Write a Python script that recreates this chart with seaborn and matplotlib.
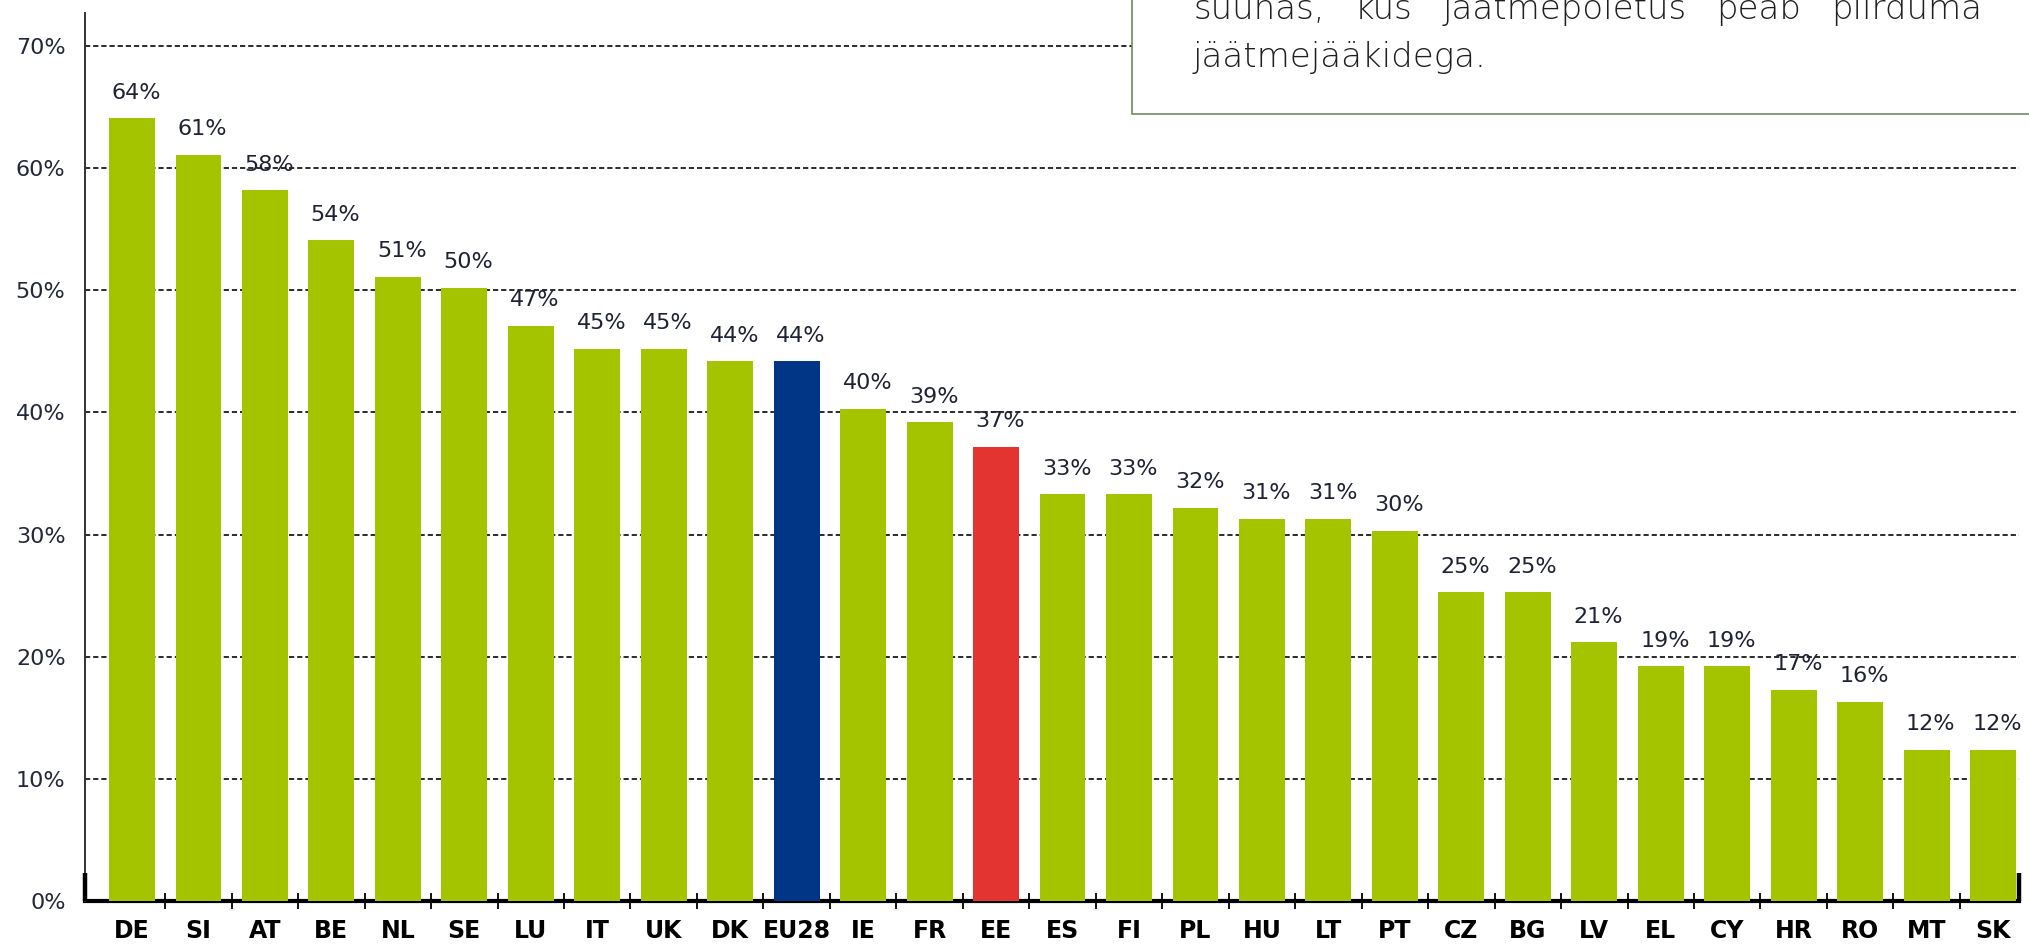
import matplotlib
matplotlib.use("Agg")
import matplotlib.pyplot as plt
import matplotlib.patches as mpatches
from matplotlib.ticker import FixedLocator
import seaborn as sns
import pandas as pd

# data
countries = ["DE", "SI", "AT", "BE", "NL", "SE", "LU", "IT", "UK", "DK", "EU28",
             "IE", "FR", "EE", "ES", "FI", "PL", "HU", "LT", "PT", "CZ", "BG",
             "LV", "EL", "CY", "HR", "RO", "MT", "SK"]
shares = [64.1, 61.1, 58.2, 54.1, 51.1, 50.2, 47.1, 45.2, 45.2, 44.2, 44.2,
          40.3, 39.2, 37.2, 33.3, 33.3, 32.2, 31.3, 31.3, 30.3, 25.3, 25.3,
          21.2, 19.2, 19.2, 17.3, 16.3, 12.4, 12.4]
y_ticks = [0, 10, 20, 30, 40, 50, 60, 70]
box_lines = ["suunas, kus jäätmepõletus peab piirduma", "jäätmejääkidega."]

GREEN = "#a5c400"
BLUE = "#003685"
RED = "#e3342f"
colors = {c: GREEN for c in countries}
colors["EU28"] = BLUE
colors["EE"] = RED

sns.set_theme(style="white")
plt.rcParams["font.family"] = ["DejaVu Sans"]

df = pd.DataFrame({"country": countries, "share": shares})

W, H = 2029, 951
fig = plt.figure(figsize=(W / 100, H / 100), dpi=100)
ax = fig.add_axes([85 / W, (H - 901) / H, (2019 - 85) / W, (901 - 13) / H])

sns.barplot(data=df, x="country", y="share", hue="country", palette=colors,
            legend=False, width=0.69, saturation=1, linewidth=0, zorder=3, ax=ax)

ax.set_xlim(-0.707, 28.39)
ax.set_ylim(0, 72.7)
ax.set_xlabel("")
ax.set_ylabel("")

# dashed horizontal grid
ax.set_yticks(y_ticks)
ax.set_yticklabels([f"{t}%" for t in y_ticks])
ax.set_axisbelow(True)
ax.yaxis.grid(True, color="#111111", lw=1.25, linestyle=(0, (3.0, 1.7)))
ax.xaxis.grid(False)

for s in ["top", "right"]:
    ax.spines[s].set_visible(False)
ax.spines["left"].set_color("#333333")
ax.spines["left"].set_linewidth(1.4)
ax.spines["bottom"].set_color("black")
ax.spines["bottom"].set_linewidth(3)
ax.spines["bottom"].set_zorder(2)

ax.tick_params(axis="y", length=0, pad=14, labelsize=16, labelcolor="#232838")
ax.tick_params(axis="x", which="major", length=0, pad=13, labelsize=17,
               labelcolor="black")
for lab in ax.get_xticklabels():
    lab.set_fontweight("bold")
ax.xaxis.set_minor_locator(FixedLocator([i + 0.5 for i in range(len(countries) - 1)]))
ax.tick_params(axis="x", which="minor", direction="inout", length=12, width=1.3,
               color="black", bottom=True)

# thick end caps on the baseline
for xe in [0, 1]:
    ax.plot([xe, xe], [0, 0.032], transform=ax.transAxes, color="black", lw=3.2,
            clip_on=False, solid_capstyle="butt", zorder=4)

# value labels
for i, v in enumerate(shares):
    ax.annotate(f"{v:.0f}%", xy=(i, v), xytext=(3, 14), textcoords="offset points",
                ha="center", va="baseline", fontsize=16, color="#1e2233")

# text box, top right (cut off by the image edge as in the source)
box = mpatches.Rectangle((1132 / W, 1 - 114 / H), 1, 0.5, transform=fig.transFigure,
                         facecolor="white", edgecolor="#6e8c5e", lw=1.2, zorder=5)
fig.add_artist(box)

renderer = fig.canvas.get_renderer()
x_left, x_right = 1193, 1982
txt_kw = dict(fontsize=24.5, color="#1f1f1f", va="baseline", ha="left",
              fontweight="light", zorder=6)

# first line justified between the margins
words = box_lines[0].split()
items = [fig.text(0, 1 - 19 / H, w, **txt_kw) for w in words]
widths = [t.get_window_extent(renderer).width for t in items]
gap = (x_right - x_left - sum(widths)) / (len(words) - 1)
xpos = x_left
for t, wd in zip(items, widths):
    t.set_x(xpos / W)
    xpos += wd + gap

fig.text(x_left / W, 1 - 67 / H, box_lines[1], **txt_kw)

fig.savefig("out.png", dpi=100)
